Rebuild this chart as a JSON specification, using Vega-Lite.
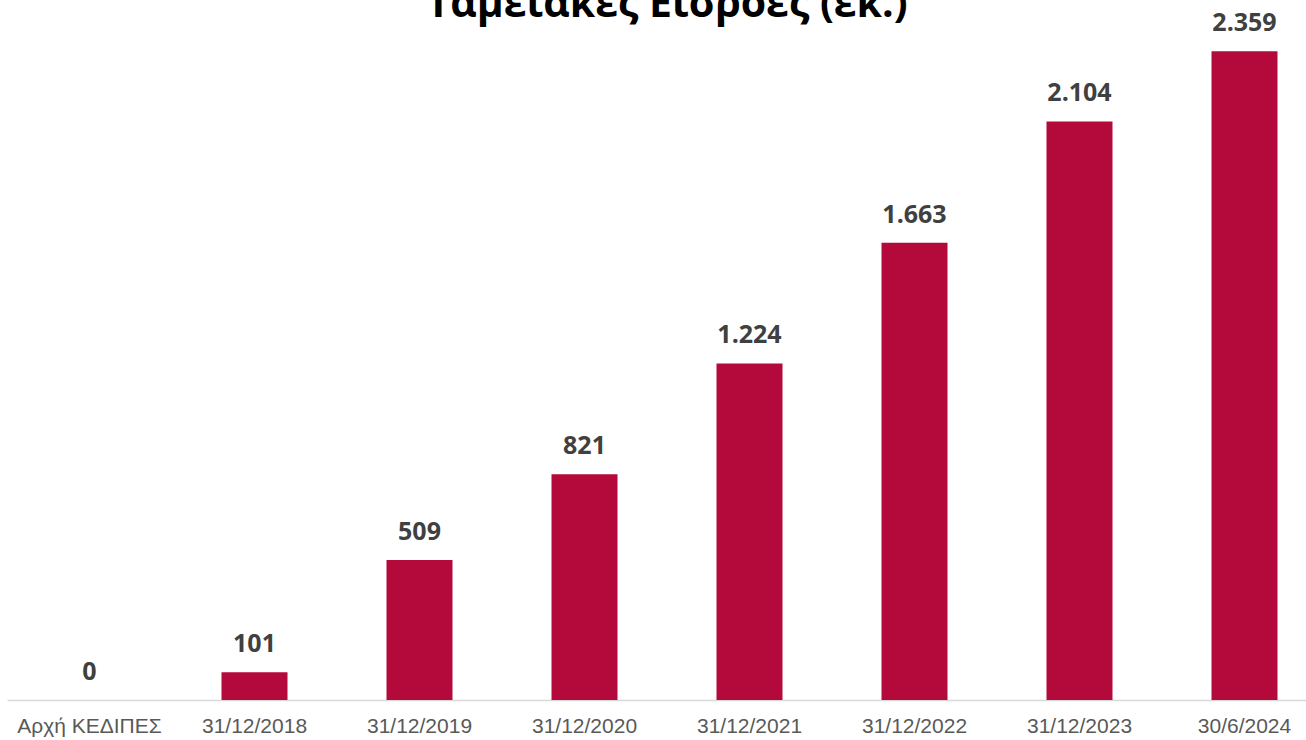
{
  "$schema": "https://vega.github.io/schema/vega-lite/v6.json",
  "autosize": "none",
  "width": 1320,
  "height": 660,
  "padding": {"left": 7, "top": 40, "right": 0, "bottom": 40},
  "background": "white",
  "title": {
    "text": "Ταμειακές Εισροές (εκ.)",
    "font": "Open Sans",
    "fontSize": 41,
    "fontWeight": "bold",
    "color": "#000000",
    "anchor": "middle",
    "baseline": "alphabetic",
    "offset": 0,
    "dy": 47
  },
  "data": {
    "values": [
      {"date": "Αρχή ΚΕΔΙΠΕΣ", "value": 0, "label": "0"},
      {"date": "31/12/2018", "value": 101, "label": "101"},
      {"date": "31/12/2019", "value": 509, "label": "509"},
      {"date": "31/12/2020", "value": 821, "label": "821"},
      {"date": "31/12/2021", "value": 1224, "label": "1.224"},
      {"date": "31/12/2022", "value": 1663, "label": "1.663"},
      {"date": "31/12/2023", "value": 2104, "label": "2.104"},
      {"date": "30/6/2024", "value": 2359, "label": "2.359"}
    ]
  },
  "encoding": {
    "x": {
      "field": "date",
      "type": "nominal",
      "sort": null,
      "scale": {"paddingInner": 0.6, "paddingOuter": 0.3},
      "axis": {
        "title": null,
        "labelAngle": 0,
        "ticks": false,
        "labelPadding": 15,
        "labelFont": "Liberation Sans",
        "labelFontSize": 21,
        "labelColor": "#595959",
        "domainColor": "#d9d9d9",
        "domainWidth": 1.5,
        "grid": false
      }
    },
    "y": {
      "field": "value",
      "type": "quantitative",
      "scale": {"domain": [0, 2400], "nice": false},
      "axis": null
    }
  },
  "layer": [
    {"mark": {"type": "bar", "color": "#B4093B"}},
    {
      "mark": {
        "type": "text",
        "baseline": "alphabetic",
        "dy": -20,
        "font": "Open Sans",
        "fontSize": 25,
        "fontWeight": "bold",
        "color": "#404040"
      },
      "encoding": {"text": {"field": "label"}}
    }
  ],
  "config": {"view": {"stroke": null}}
}
